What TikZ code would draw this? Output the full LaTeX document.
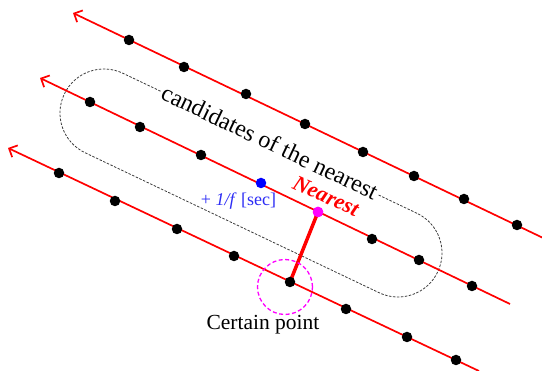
\documentclass[tikz,border=0pt]{standalone}
\usepackage{fontspec}
\setmainfont{Liberation Serif}
\usetikzlibrary{arrows.meta}
\definecolor{trackred}{RGB}{255,0,0}
\definecolor{dotblue}{RGB}{0,0,255}
\definecolor{dotmag}{RGB}{255,0,255}
\definecolor{labelblue}{RGB}{45,45,245}
\definecolor{loopgray}{RGB}{60,60,60}
\begin{document}
\begin{tikzpicture}[x=1pt,y=-1pt,
  dot/.style={circle,fill=black,inner sep=0pt,minimum size=10.5pt},
  track/.style={draw=trackred,line width=1.7pt,-{Straight Barb[length=6.5pt,width=13pt]}},
  candloop/.style={draw=loopgray,line width=0.8pt,dash pattern=on 2.5pt off 1.5pt,
    rounded corners=43.9pt,minimum width=413.6pt,minimum height=88pt,rotate=-25.46,inner sep=0pt},
  nearlink/.style={draw=trackred,line width=3.5pt},
  zone/.style={draw=dotmag,line width=1.3pt,dash pattern=on 4pt off 2.5pt}]
\useasboundingbox (0,0) rectangle (542,371);
% candidate loop
\node[candloop] (loop) at (251,183) {};
\node[fill=white,inner sep=2pt,rotate=-25.46,font=\fontsize{24}{24}\selectfont] (cand) at (270,142) {candidates of the nearest};
% track ends
\coordinate (a1) at (73,13);  \coordinate (e1) at (562,247);
\coordinate (a2) at (40,78);  \coordinate (e2) at (510,304);
\coordinate (a3) at (8,148);  \coordinate (e3) at (479,371);
\draw[track] (e1) -- (a1);
\draw[track] (e2) -- (a2);
\draw[track] (e3) -- (a3);
% line 1 dots
\node[dot] (p11) at (129,40) {};
\node[dot] (p12) at (184,67) {};
\node[dot] (p13) at (246,94) {};
\node[dot] (p14) at (305,124) {};
\node[dot] (p15) at (363,152) {};
\node[dot] (p16) at (414,176) {};
\node[dot] (p17) at (464,199) {};
\node[dot] (p18) at (517,225) {};
% line 2 dots
\node[dot] (p21) at (90,102) {};
\node[dot] (p22) at (140,127) {};
\node[dot] (p23) at (201,155) {};
\node[dot] (p26) at (372,239) {};
\node[dot] (p27) at (419,260) {};
\node[dot] (p28) at (472,286) {};
% line 3 dots
\node[dot] (p31) at (59,173) {};
\node[dot] (p32) at (115,201) {};
\node[dot] (p33) at (177,229) {};
\node[dot] (p34) at (234,256) {};
\node[dot] (p36) at (346,309) {};
\node[dot] (p37) at (407,337) {};
\node[dot] (p38) at (456,360) {};
% certain point and nearest
\node[draw=none,inner sep=0pt,minimum size=10.5pt] (cert) at (290,282) {};
\node[dot,fill=dotmag] (near) at (318,212) {};
\draw[nearlink] (cert.center) -- (near.center);
\node[dot] at (cert.center) {};
\node[dot,fill=dotmag] at (near.center) {};
\node[dot,fill=dotblue] (next) at (261,183) {};
\node[zone,circle,minimum size=55pt,inner sep=0pt] (zonec) at (285,287) {};
% labels
\node[anchor=base,font=\fontsize{21.5}{21.5}\selectfont] (certlbl) at (263,330) {Certain point};
\node[anchor=base,text=labelblue,font=\fontsize{18}{18}\selectfont] (steplbl) at (238.5,206) {+ \textit{1/f} [sec]};
\node[text=trackred,rotate=-24,font=\fontsize{22}{22}\selectfont\bfseries\itshape] (nearlbl) at (326,196) {Nearest};
\end{tikzpicture}
\end{document}
